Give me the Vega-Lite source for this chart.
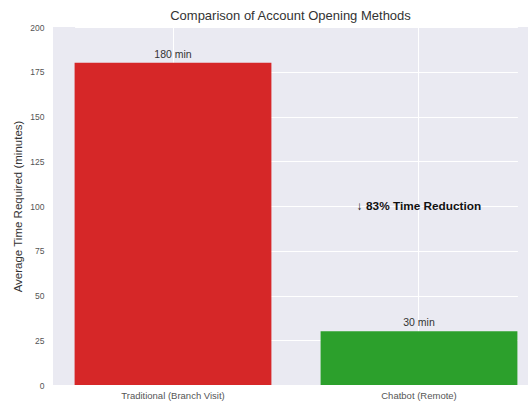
{
  "$schema": "https://vega.github.io/schema/vega-lite/v6.json",
  "width": 475,
  "height": 358,
  "autosize": {"type": "none"},
  "padding": {"left": 53, "top": 27, "right": 1, "bottom": 18},
  "background": "white",
  "config": {
    "font": "Liberation Sans",
    "view": {"fill": "#EAEAF2", "stroke": null},
    "axis": {"gridColor": "white", "gridWidth": 1, "domain": false, "ticks": false, "labelColor": "#555", "titleColor": "#333", "titleFontWeight": "normal"}
  },
  "title": {"text": "Comparison of Account Opening Methods", "fontSize": 13, "fontWeight": "normal", "color": "#333", "offset": 0, "anchor": "middle"},
  "datasets": {
    "bars": [
      {"method": "Traditional (Branch Visit)", "time": 180, "label": "180 min"},
      {"method": "Chatbot (Remote)", "time": 30, "label": "30 min"}
    ],
    "note": [
      {"method": "Chatbot (Remote)", "y": 100, "text": "↓ 83% Time Reduction"}
    ]
  },
  "encoding": {
    "x": {
      "field": "method", "type": "nominal", "sort": null,
      "scale": {"domain": ["Traditional (Branch Visit)", "Chatbot (Remote)"], "range": [21.6, 464.4], "paddingInner": 0.2, "paddingOuter": 0},
      "axis": {"title": null, "labelAngle": 0, "labelFontSize": 9.5, "labelPadding": 5, "grid": true}
    }
  },
  "layer": [
    {
      "data": {"name": "bars"},
      "mark": {"type": "bar"},
      "encoding": {
        "y": {"field": "time", "type": "quantitative", "scale": {"domain": [0, 200], "nice": false},
          "axis": {"title": "Average Time Required (minutes)", "values": [0, 25, 50, 75, 100, 125, 150, 175, 200], "labelFontSize": 8.5, "labelPadding": 9, "titleFontSize": 11.5, "titlePadding": 6, "grid": true}},
        "color": {"field": "method", "type": "nominal", "scale": {"domain": ["Traditional (Branch Visit)", "Chatbot (Remote)"], "range": ["#d62728", "#2ca02c"]}, "legend": null}
      }
    },
    {
      "data": {"name": "bars"},
      "mark": {"type": "text", "baseline": "bottom", "dy": -3, "fontSize": 10.5, "color": "#333"},
      "encoding": {
        "y": {"field": "time", "type": "quantitative"},
        "text": {"field": "label"}
      }
    },
    {
      "data": {"name": "note"},
      "mark": {"type": "text", "baseline": "middle", "fontSize": 11.8, "fontWeight": "bold", "color": "#111"},
      "encoding": {
        "y": {"field": "y", "type": "quantitative"},
        "text": {"field": "text"}
      }
    }
  ]
}
